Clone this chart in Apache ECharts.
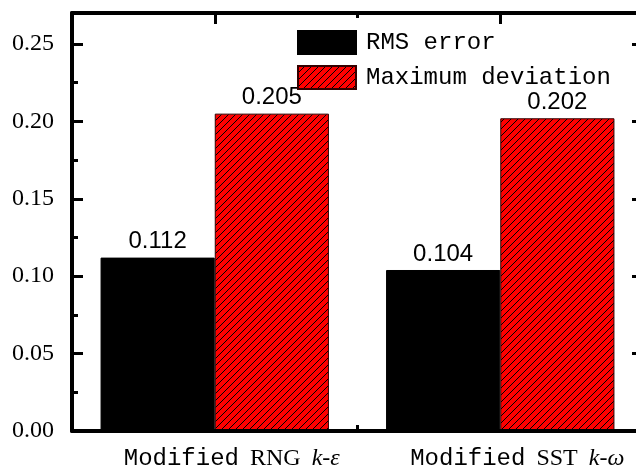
<!DOCTYPE html>
<html><head><meta charset="utf-8">
<script src="https://cdn.jsdelivr.net/npm/echarts@6/dist/echarts.min.js"></script>
<style>html,body{margin:0;padding:0;background:#fff}#c{width:636px;height:473px}</style>
</head><body><div id="c"></div>
<script>
const categories = ['RNG', 'SST'];
const categoryLabels = ['{p|}{a|Modified}{s|}{b|RNG}{s|}{c|k-ε}', '{p|}{a|Modified}{s|}{b|SST}{s|}{c|k-ω}'];
const rmsError = [0.112, 0.104];
const maxDeviation = [0.205, 0.202];
const yMajorTicks = [0, 0.05, 0.10, 0.15, 0.20, 0.25];
const yMinorTicks = [0.025, 0.075, 0.125, 0.175, 0.225];
const yTickLabels = ['0.00', '0.05', '0.10', '0.15', '0.20', '0.25'];

function makeHatch() {
  const s = 7, c = document.createElement('canvas');
  c.width = s; c.height = s;
  const g = c.getContext('2d');
  g.fillStyle = '#ff0000'; g.fillRect(0, 0, s, s);
  g.strokeStyle = '#000'; g.lineWidth = 1;
  g.beginPath();
  g.moveTo(0, s); g.lineTo(s, 0);
  g.moveTo(-1, 1); g.lineTo(1, -1);
  g.moveTo(s - 1, s + 1); g.lineTo(s + 1, s - 1);
  g.stroke();
  return c;
}
const hatch = { image: makeHatch(), repeat: 'repeat' };

const chart = echarts.init(document.getElementById('c'), null, { renderer: 'canvas' });
const axLine = { show: true, onZero: false, lineStyle: { color: '#000', width: 4 } };
const noLine = { show: false, onZero: false };
const yCommon = { type: 'value', min: 0, max: 0.27, splitLine: { show: false } };
const gridBox = { left: 72, top: 13, width: 571, height: 418, containLabel: false, outerBoundsMode: 'none' };
chart.setOption({
  animation: false,
  grid: [Object.assign({}, gridBox), Object.assign({}, gridBox)],
  legend: {
    orient: 'vertical', left: 292, top: 25, itemWidth: 58, itemHeight: 23, itemGap: 10, icon: 'rect',
    textStyle: { fontFamily: 'Liberation Mono', fontSize: 24, color: '#000', padding: [0, 0, 0, 5] },
    data: ['RMS error', 'Maximum deviation']
  },
  xAxis: [
    {
      type: 'category', data: categories, position: 'bottom', gridIndex: 0, z: 5,
      axisLine: axLine,
      axisTick: { show: true, inside: true, length: 6, lineStyle: { color: '#000', width: 3 } },
      axisLabel: {
        margin: 16, formatter: (v, i) => categoryLabels[i],
        rich: {
          p: { width: 34 },
          s: { width: 11 },
          a: { fontFamily: 'Liberation Mono', fontSize: 24, color: '#000' },
          b: { fontFamily: 'Liberation Serif', fontSize: 24, color: '#000' },
          c: { fontFamily: 'Liberation Serif', fontStyle: 'italic', fontSize: 24, color: '#000' }
        }
      }
    },
    {
      type: 'category', data: categories, position: 'top', gridIndex: 0, z: 5,
      axisLine: axLine,
      axisTick: { show: true, inside: true, alignWithLabel: true, length: 11, lineStyle: { color: '#000', width: 3 } },
      axisLabel: { show: false }
    },
    {
      type: 'category', data: categories, position: 'top', gridIndex: 1, z: 5,
      axisLine: noLine,
      axisTick: { show: true, inside: true, length: 5, lineStyle: { color: '#000', width: 3 } },
      axisLabel: { show: false }
    }
  ],
  yAxis: [
    Object.assign({}, yCommon, {
      position: 'left', gridIndex: 0, z: 5,
      axisLine: axLine,
      axisTick: { show: true, inside: true, length: 11, customValues: yMajorTicks, lineStyle: { color: '#000', width: 3 } },
      axisLabel: {
        customValues: yMajorTicks, margin: 18,
        formatter: v => yTickLabels[yMajorTicks.findIndex(t => Math.abs(t - v) < 1e-9)] || '',
        fontFamily: 'Liberation Serif', fontSize: 24, color: '#000'
      }
    }),
    Object.assign({}, yCommon, {
      position: 'right', gridIndex: 0, z: 5,
      axisLine: axLine,
      axisTick: { show: true, inside: true, length: 11, customValues: yMajorTicks.slice(1), lineStyle: { color: '#000', width: 3 } },
      axisLabel: { show: false }
    }),
    Object.assign({}, yCommon, {
      position: 'left', gridIndex: 1, z: 5,
      axisLine: noLine,
      axisTick: { show: true, inside: true, length: 6, customValues: yMinorTicks, lineStyle: { color: '#000', width: 3 } },
      axisLabel: { show: false }
    })
  ],
  series: [
    {
      name: 'RMS error', type: 'bar', data: rmsError, barGap: '0%', barCategoryGap: '20%',
      xAxisIndex: 0, yAxisIndex: 0,
      itemStyle: { color: '#000', borderColor: '#000', borderWidth: 1 },
      label: { show: true, position: 'top', distance: 4, fontFamily: 'Liberation Sans', fontSize: 24, color: '#000' }
    },
    {
      name: 'Maximum deviation', type: 'bar', data: maxDeviation, barGap: '0%', barCategoryGap: '20%',
      xAxisIndex: 0, yAxisIndex: 0,
      itemStyle: { color: hatch, borderColor: '#300', borderWidth: 1 },
      label: { show: true, position: 'top', distance: 4, fontFamily: 'Liberation Sans', fontSize: 24, color: '#000' }
    }
  ]
});
</script></body></html>
